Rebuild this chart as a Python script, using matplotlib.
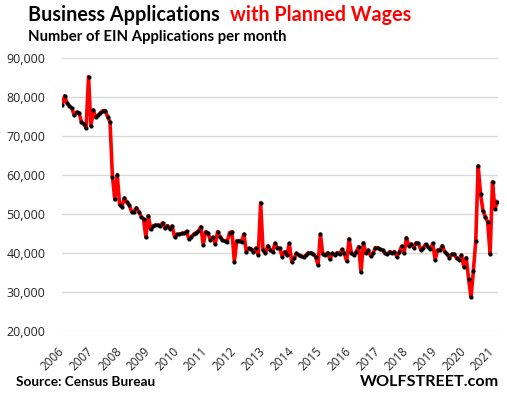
import numpy as np
import matplotlib
matplotlib.use("Agg")
import matplotlib.pyplot as plt

# monthly EIN applications with planned wages, Jan 2006 - Mar 2021
apps = [
    78000, 80400, 78500, 77850, 77200, 75450, 76200, 76050, 73750, 73150, 72100, 85300,  # 2006
    72650, 76750, 74850, 75400, 76050, 76550, 76600, 75000, 73600, 59650, 53800, 60200,  # 2007
    52500, 51950, 54200, 53100, 52400, 50700, 50700, 51700, 50700, 49400, 48800, 44100,  # 2008
    49650, 46150, 47000, 47250, 47250, 47100, 47800, 46400, 47100, 46250, 47000, 44250,  # 2009
    44850, 44850, 45100, 45100, 45600, 43600, 44250, 44900, 45300, 45700, 46800, 42150,  # 2010
    45550, 45100, 43400, 44100, 42400, 45550, 44250, 43400, 43150, 42950, 45300, 45550,  # 2011
    37850, 43200, 43200, 42950, 44950, 40400, 41300, 41000, 40400, 41300, 39550, 53000,  # 2012
    40850, 40000, 41950, 40850, 40400, 42550, 41450, 41300, 39150, 40400, 39550, 42550,  # 2013
    37850, 38700, 40000, 39550, 39300, 38950, 39550, 40150, 40150, 39800, 39100, 37000,  # 2014
    44900, 39750, 39550, 40150, 38450, 40000, 39550, 40150, 39750, 41000, 40000, 38000,  # 2015
    43700, 40000, 39550, 40400, 41700, 35150, 42700, 40000, 40850, 39300, 40000, 41450,  # 2016
    41450, 41000, 40850, 40000, 39750, 40450, 40000, 40450, 39100, 40300, 41850, 40000,  # 2017
    44000, 41950, 42400, 41450, 42700, 42550, 40850, 41450, 42300, 41700, 41000, 42550,  # 2018
    38300, 40850, 40850, 41950, 40400, 39750, 38900, 39800, 39800, 38700, 38300, 39550,  # 2019
    36550, 38900, 33400, 28700, 35450, 43250, 62450, 55200, 50950, 49400, 47950, 39800,  # 2020
    58350, 51350, 53250,                                                                  # 2021
]
years = list(range(2006, 2022))
yticks = [20000, 30000, 40000, 50000, 60000, 70000, 80000, 90000]

months = np.arange(len(apps))

fig = plt.figure(figsize=(5.07, 3.95), dpi=100)
ax = fig.add_axes([62 / 507, 1 - 331.3 / 395, 436 / 507, 273 / 395])

ax.plot(months, apps, color="#ff0000", lw=2.6, zorder=3)
ax.plot(months, apps, ls="none", marker="o", ms=2.0, color="black", zorder=4)

ax.set_ylim(20000, 90000)
ax.set_xlim(-0.1, len(apps) - 0.7)
ax.set_yticks(yticks)
ax.set_yticklabels([f"{v:,}" for v in yticks], fontsize=9, family="Open Sans", color="#262626")
ax.set_xticks([(y - 2006) * 12 for y in years])
ax.set_xticklabels([str(y) for y in years], rotation=45, ha="right", va="center",
                   rotation_mode="anchor", fontsize=8.5, family="Open Sans", color="#262626")
ax.tick_params(axis="both", length=0)
ax.tick_params(axis="x", pad=13)
ax.tick_params(axis="y", pad=12)
ax.grid(axis="y", color="#d9d9d9", lw=1)
ax.set_axisbelow(True)
for s in ax.spines.values():
    s.set_visible(False)

t1 = fig.text(28 / 507, 1 - 21 / 395, "Business Applications", fontsize=14.2, weight="bold",
              family="Lato", color="black")
fig.canvas.draw()
x_end = t1.get_window_extent().x1
fig.text((x_end + 10) / 507, 1 - 21 / 395, "with Planned Wages", fontsize=14.2, weight="bold",
         family="Lato", color="#ff0000")
fig.text(28 / 507, 1 - 41 / 395, "Number of EIN Applications per month", fontsize=10.7,
         weight="bold", family="Lato", color="black")
fig.text(16 / 507, 1 - 386 / 395, "Source: Census Bureau", fontsize=9.8, weight="bold",
         family="Lato", color="black")
fig.text(499 / 507, 1 - 386 / 395, "WOLFSTREET.com", fontsize=11.6, weight="bold",
         family="Lato", color="black", ha="right")

fig.savefig("out.png", dpi=100)
